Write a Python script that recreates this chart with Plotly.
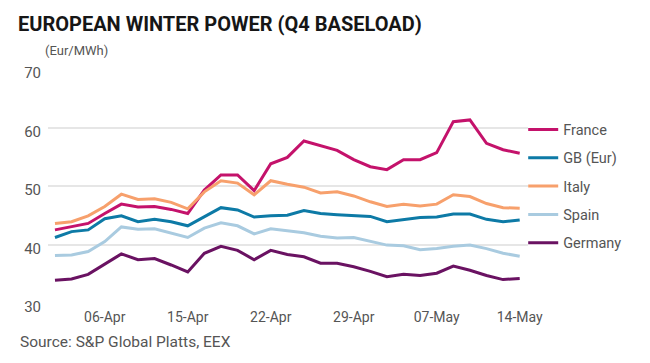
import plotly.graph_objects as go

# x positions are trading-day indices; tick labels every 5th point
tick_index = [3, 8, 13, 18, 23, 28]
tick_labels = ["06-Apr", "15-Apr", "22-Apr", "29-Apr", "07-May", "14-May"]

france = [42.5, 43.0, 43.6, 45.3, 46.9, 46.4, 46.5, 46.0, 45.3, 49.3, 51.9, 51.9, 49.2, 53.8, 54.9,
          57.7, 56.9, 56.1, 54.5, 53.3, 52.8, 54.5, 54.5, 55.7, 61.0, 61.3, 57.3, 56.2, 55.6]
gb = [41.2, 42.2, 42.5, 44.4, 44.9, 43.9, 44.3, 43.9, 43.2, 44.8, 46.3, 45.9, 44.7, 44.9, 45.0,
      45.8, 45.3, 45.1, 44.9, 44.8, 43.9, 44.3, 44.6, 44.7, 45.2, 45.2, 44.3, 43.9, 44.2]
italy = [43.6, 43.9, 44.9, 46.5, 48.6, 47.7, 47.8, 47.2, 46.1, 49.0, 50.9, 50.5, 48.5, 50.9, 50.3,
         49.8, 48.8, 49.0, 48.3, 47.3, 46.5, 46.9, 46.6, 46.9, 48.5, 48.2, 47.0, 46.3, 46.2]
spain = [38.1, 38.2, 38.8, 40.5, 43.0, 42.6, 42.7, 42.0, 41.2, 42.8, 43.7, 43.2, 41.8, 42.7, 42.3,
         42.0, 41.4, 41.1, 41.2, 40.5, 39.9, 39.8, 39.1, 39.3, 39.7, 39.9, 39.3, 38.5, 38.0]
germany = [33.9, 34.1, 34.9, 36.7, 38.4, 37.4, 37.6, 36.5, 35.3, 38.5, 39.7, 39.0, 37.4, 39.0, 38.3,
           37.9, 36.8, 36.8, 36.2, 35.4, 34.5, 34.9, 34.7, 35.1, 36.3, 35.6, 34.7, 34.0, 34.2]

series_names = ["France", "GB (Eur)", "Italy", "Spain", "Germany"]
series_values = [france, gb, italy, spain, germany]
series_colors = ["#c4126b", "#0d7aa6", "#f7a06c", "#a9cbe0", "#6a1262"]

x = list(range(len(france)))

fig = go.Figure()
for name, vals, col in zip(series_names, series_values, series_colors):
    fig.add_trace(go.Scatter(x=x, y=vals, mode="lines", name=name, legendgroup=name,
                             line=dict(color=col, width=3)))

FONT = "Roboto"
L, T, W, H = 48, 69, 480, 234
fig.update_layout(
    width=650, height=363,
    margin=dict(l=L, r=650 - L - W, t=T, b=363 - T - H),
    paper_bgcolor="white", plot_bgcolor="white",
    font=dict(family=FONT, color="#555555", size=14),
    showlegend=True,
    legend=dict(x=0.99, y=0.81, xanchor="left", yanchor="top",
                font=dict(size=14.5, color="#555555"), tracegroupgap=6.5,
                itemwidth=30, bgcolor="rgba(0,0,0,0)"),
    xaxis=dict(range=[-0.42, 28.5], tickmode="array", tickvals=tick_index, ticktext=tick_labels,
               showgrid=False, zeroline=False, showline=False, ticks="",
               ticklabelstandoff=4,
               tickfont=dict(size=14, color="#555555")),
    yaxis=dict(range=[30, 70], tickvals=[30, 40, 50, 60, 70], showgrid=True,
               gridcolor="#e6e6e6", gridwidth=1.5, zeroline=False, ticks="", ticklen=0,
               ticklabelstandoff=6, ticklabelshift=4,
               tickfont=dict(size=15, color="#555555")),
)

def px_x(p):
    return (p - L) / W

def px_y(p):
    return 1 - (p - T) / H

fig.add_annotation(text="<b>EUROPEAN WINTER POWER (Q4 BASELOAD)</b>", xref="paper", yref="paper",
                   x=px_x(16), y=px_y(24), xanchor="left", yanchor="middle",
                   showarrow=False, font=dict(size=20, color="#161616", family=FONT))
fig.add_annotation(text="(Eur/MWh)", xref="paper", yref="paper",
                   x=px_x(43), y=px_y(50), xanchor="left", yanchor="middle",
                   showarrow=False, font=dict(size=13, color="#555555", family=FONT))
fig.add_annotation(text="Source: S&P Global Platts, EEX", xref="paper", yref="paper",
                   x=px_x(18), y=px_y(342), xanchor="left", yanchor="middle",
                   showarrow=False, font=dict(size=15.5, color="#555555", family=FONT))

fig.write_html("out.html", config={"displayModeBar": False},
               post_script="document.body.style.margin='0px';")
